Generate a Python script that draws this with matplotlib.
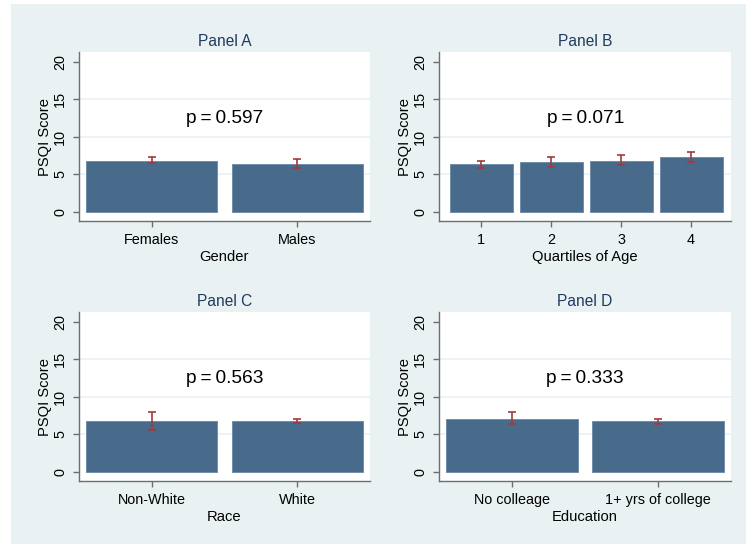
import matplotlib
matplotlib.use("Agg")
import matplotlib.pyplot as plt
from matplotlib.patches import Rectangle

plt.rcParams["font.family"] = ["Liberation Sans", "DejaVu Sans"]

# === DATA (mean PSQI score with 95% CI) ===
gender_labels = ["Females", "Males"]
gender_mean = [6.8, 6.45]
gender_lo = [6.5, 5.85]
gender_hi = [7.3, 7.1]

age_labels = ["1", "2", "3", "4"]
age_mean = [6.36, 6.67, 6.85, 7.29]
age_lo = [5.87, 6.04, 6.31, 6.62]
age_hi = [6.76, 7.33, 7.6, 8.04]

race_labels = ["Non-White", "White"]
race_mean = [6.77, 6.77]
race_lo = [5.58, 6.5]
race_hi = [7.92, 7.08]

edu_labels = ["No colleage", "1+ yrs of college"]
edu_mean = [7.12, 6.77]
edu_lo = [6.37, 6.42]
edu_hi = [8.05, 7.08]

p_values = ["0.597", "0.071", "0.563", "0.333"]

panels = [
    ("Panel A", "Gender", gender_labels, gender_mean, gender_lo, gender_hi),
    ("Panel B", "Quartiles of Age", age_labels, age_mean, age_lo, age_hi),
    ("Panel C", "Race", race_labels, race_mean, race_lo, race_hi),
    ("Panel D", "Education", edu_labels, edu_mean, edu_lo, edu_hi),
]

# === STYLE ===
BG = "#e9f1f3"
BAR = "#486a8b"
ERR = "#a23a3e"
AXIS = "#6e6e6e"
TITLE = "#1f3a60"

W, H = 746, 544
fig = plt.figure(figsize=(W / 100, H / 100), dpi=100, facecolor="white")
fig.patches.append(Rectangle((11 / W, 0), 1 - 11 / W, 1 - 4 / H,
                             transform=fig.transFigure, facecolor=BG,
                             edgecolor="none", zorder=-1))

# plot areas in pixels: (left, top, right, bottom)
boxes = [(79, 52, 370, 221), (439, 52, 731, 221),
         (79, 312, 370, 481), (439, 312, 731, 481)]

for (title, xlab, labels, means, lo, hi), pv, (l, t, r, b) in zip(panels, p_values, boxes):
    ax = fig.add_axes([l / W, 1 - b / H, (r - l) / W, (b - t) / H])
    ax.set_facecolor("white")
    n = len(labels)
    xs = list(range(n))
    ax.bar(xs, means, width=0.9, color=BAR, edgecolor="#6a87a3",
           linewidth=0.6, zorder=2)
    yerr = [[m - a for m, a in zip(means, lo)], [c - m for m, c in zip(means, hi)]]
    ax.errorbar(xs, means, yerr=yerr, fmt="none", ecolor=ERR, elinewidth=1.2,
                capsize=2.8, capthick=1.2, zorder=3)

    ax.set_xlim(-0.5 if n == 2 else -0.6, n - 0.5 if n == 2 else n - 0.43)
    ax.set_ylim(-1.2, 21.3)
    ax.set_yticks([0, 5, 10, 15, 20])
    ax.set_xticks(xs)
    ax.set_xticklabels(labels)
    for g in (5, 10, 15):
        ax.axhline(g, color=BG, linewidth=1.2, zorder=1)

    for s in ("top", "right"):
        ax.spines[s].set_visible(False)
    for s in ("left", "bottom"):
        ax.spines[s].set_color(AXIS)
        ax.spines[s].set_linewidth(1.0)
    ax.tick_params(axis="both", colors=AXIS, length=4.5, width=1.0,
                   labelcolor="black", labelsize=10.4, pad=4)
    for lab in ax.get_yticklabels():
        lab.set_rotation(90)
        lab.set_va("center")

    ax.set_ylabel("PSQI Score", fontsize=10.6, labelpad=1)
    ax.set_xlabel(xlab, fontsize=10.6, labelpad=2)
    ax.set_title(title, fontsize=11.2, color=TITLE, pad=4)
    ax.text((n - 1) / 2, 12.4, "p\u2009=\u2009" + pv, ha="center", va="center",
            fontsize=13.8, color="black")

fig.savefig("out.png", dpi=100, facecolor=fig.get_facecolor())
